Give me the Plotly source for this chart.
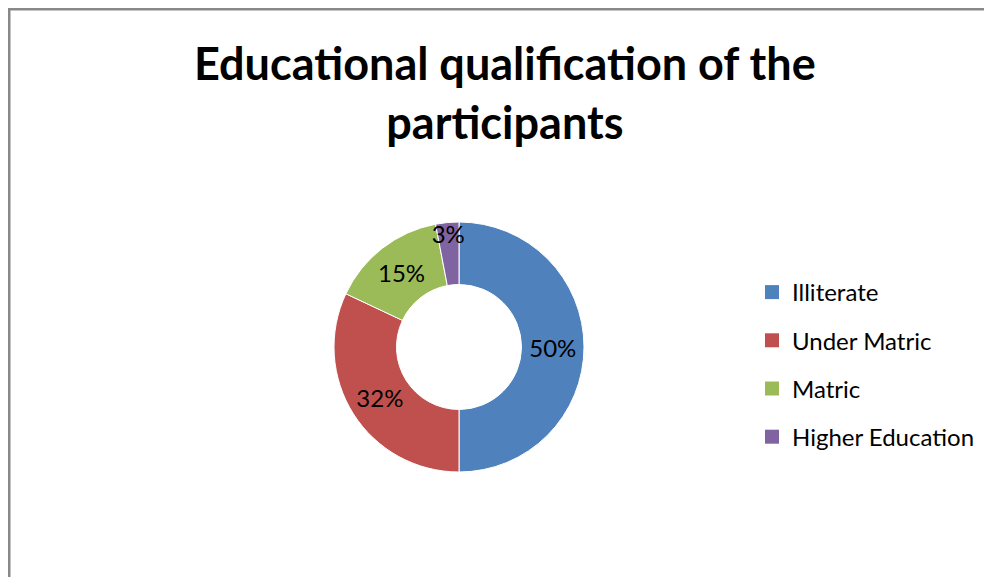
import plotly.graph_objects as go

categories = ["Illiterate", "Under Matric", "Matric", "Higher Education"]
values = [50, 32, 15, 3]
colors = ["#4F81BD", "#C0504D", "#9BBB59", "#8064A2"]
title_text = "Educational qualification of the<br>participants"

# page body has an 8px margin; figure fills the rest of the 992x577 window
W, H = 984, 569
FONT = "Lato"
cx, cy, r = 451, 339, 125

fig = go.Figure()
fig.add_trace(go.Pie(
    labels=categories, values=values, sort=False, direction="clockwise", rotation=0,
    hole=0.5, marker=dict(colors=colors, line=dict(color="white", width=1)),
    texttemplate="%{percent:.0%}", textposition="inside", insidetextorientation="horizontal",
    textfont=dict(family=FONT, size=24, color="black"),
    showlegend=False, hoverinfo="label+percent",
    domain=dict(x=[(cx - r) / W, (cx + r) / W], y=[1 - (cy + r) / H, 1 - (cy - r) / H]),
))
for c, col in zip(categories, colors):
    fig.add_trace(go.Scatter(
        x=[None], y=[None], mode="markers", name=c, legendgroup=c,
        marker=dict(symbol="square", size=14, color=col), hoverinfo="skip",
    ))

fig.update_layout(
    width=W, height=H, margin=dict(l=0, r=0, t=0, b=0),
    paper_bgcolor="white", plot_bgcolor="white",
    xaxis=dict(visible=False), yaxis=dict(visible=False),
    uniformtext=dict(minsize=24, mode="show"),
    annotations=[dict(text="<b>" + title_text + "</b>", xref="paper", yref="paper",
                      x=497 / W, y=1 - 84 / H, xanchor="center", yanchor="middle",
                      showarrow=False, align="center",
                      font=dict(family=FONT, size=45, color="black"))],
    legend=dict(x=744 / W, xanchor="left", y=1 - 262 / H, yanchor="top",
                font=dict(family=FONT, size=24, color="black"),
                tracegroupgap=14, bgcolor="rgba(0,0,0,0)"),
    shapes=[dict(type="rect", xref="paper", yref="paper", x0=1 / W, x1=1.02,
                 y0=-0.02, y1=1 - 1 / H, line=dict(color="#888888", width=3), layer="below")],
)

fig.write_html("out.html")
